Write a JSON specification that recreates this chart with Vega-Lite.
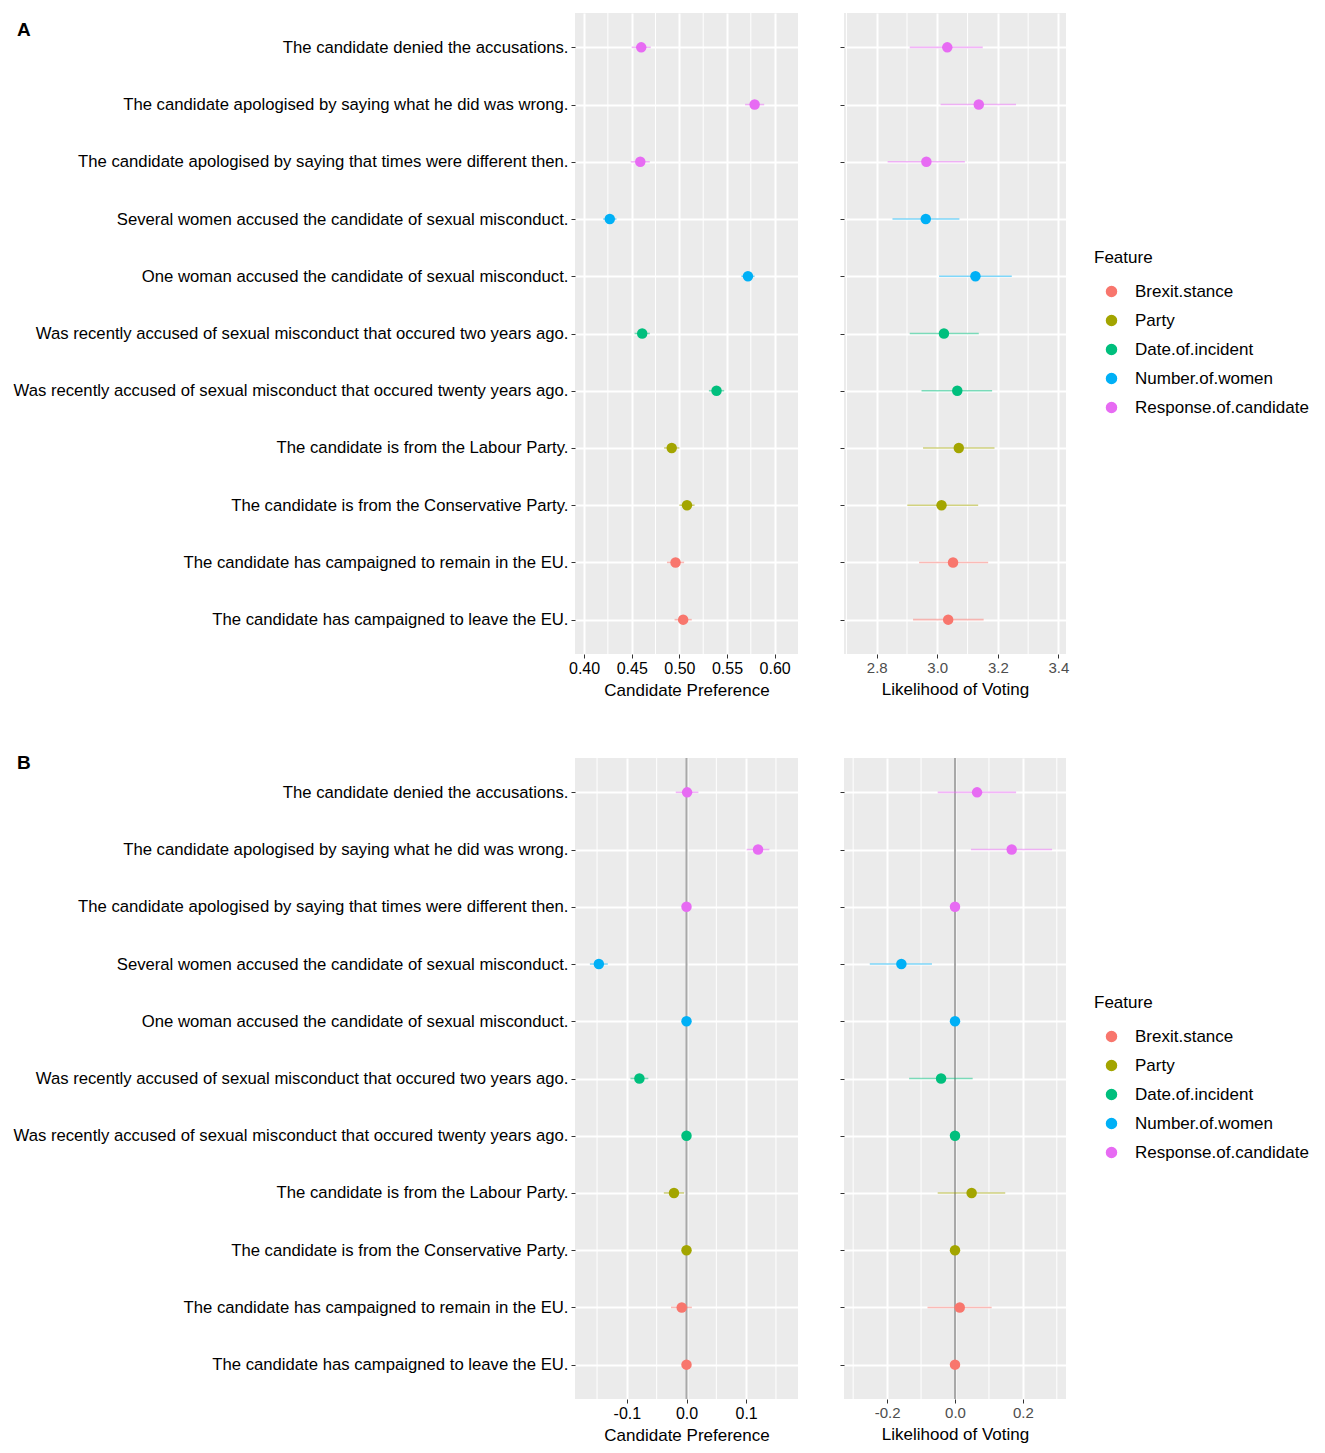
{
  "$schema": "https://vega.github.io/schema/vega-lite/v6.json",
  "padding": {"left": 13, "top": 12, "right": 5, "bottom": 5},
  "background": "white",
  "config": {
    "view": {"fill": "#EBEBEB", "stroke": null},
    "font": "Liberation Sans",
    "axis": {"domain": false, "gridColor": "white", "tickColor": "#333333", "tickSize": 4, "labelPadding": 2, "titleFontWeight": "normal", "titleColor": "black", "titleFontSize": 17, "titleFont": "Liberation Sans", "labelFont": "Liberation Sans", "labelOverlap": false},
    "title": {"font": "Liberation Sans"}
  },
  "data": {"values": [
    {"b": "A", "lvl": "The candidate denied the accusations.", "feat": "Response.of.candidate", "p": 0.460, "plo": 0.450, "phi": 0.470, "v": 3.033, "vlo": 2.909, "vhi": 3.150},
    {"b": "A", "lvl": "The candidate apologised by saying what he did was wrong.", "feat": "Response.of.candidate", "p": 0.579, "plo": 0.569, "phi": 0.589, "v": 3.137, "vlo": 3.011, "vhi": 3.260},
    {"b": "A", "lvl": "The candidate apologised by saying that times were different then.", "feat": "Response.of.candidate", "p": 0.459, "plo": 0.449, "phi": 0.469, "v": 2.964, "vlo": 2.836, "vhi": 3.091},
    {"b": "A", "lvl": "Several women accused the candidate of sexual misconduct.", "feat": "Number.of.women", "p": 0.427, "plo": 0.420, "phi": 0.434, "v": 2.962, "vlo": 2.852, "vhi": 3.073},
    {"b": "A", "lvl": "One woman accused the candidate of sexual misconduct.", "feat": "Number.of.women", "p": 0.572, "plo": 0.565, "phi": 0.579, "v": 3.126, "vlo": 3.006, "vhi": 3.246},
    {"b": "A", "lvl": "Was recently accused of sexual misconduct that occured two years ago.", "feat": "Date.of.incident", "p": 0.461, "plo": 0.453, "phi": 0.469, "v": 3.022, "vlo": 2.909, "vhi": 3.137},
    {"b": "A", "lvl": "Was recently accused of sexual misconduct that occured twenty years ago.", "feat": "Date.of.incident", "p": 0.539, "plo": 0.531, "phi": 0.547, "v": 3.066, "vlo": 2.948, "vhi": 3.181},
    {"b": "A", "lvl": "The candidate is from the Labour Party.", "feat": "Party", "p": 0.492, "plo": 0.484, "phi": 0.500, "v": 3.071, "vlo": 2.953, "vhi": 3.189},
    {"b": "A", "lvl": "The candidate is from the Conservative Party.", "feat": "Party", "p": 0.508, "plo": 0.500, "phi": 0.516, "v": 3.014, "vlo": 2.901, "vhi": 3.135},
    {"b": "A", "lvl": "The candidate has campaigned to remain in the EU.", "feat": "Brexit.stance", "p": 0.496, "plo": 0.487, "phi": 0.505, "v": 3.052, "vlo": 2.940, "vhi": 3.168},
    {"b": "A", "lvl": "The candidate has campaigned to leave the EU.", "feat": "Brexit.stance", "p": 0.504, "plo": 0.495, "phi": 0.513, "v": 3.036, "vlo": 2.920, "vhi": 3.153},
    {"b": "B", "lvl": "The candidate denied the accusations.", "feat": "Response.of.candidate", "p": 0.001, "plo": -0.018, "phi": 0.020, "v": 0.065, "vlo": -0.051, "vhi": 0.180},
    {"b": "B", "lvl": "The candidate apologised by saying what he did was wrong.", "feat": "Response.of.candidate", "p": 0.120, "plo": 0.101, "phi": 0.139, "v": 0.167, "vlo": 0.047, "vhi": 0.286},
    {"b": "B", "lvl": "The candidate apologised by saying that times were different then.", "feat": "Response.of.candidate", "p": 0, "plo": 0, "phi": 0, "v": 0, "vlo": 0, "vhi": 0},
    {"b": "B", "lvl": "Several women accused the candidate of sexual misconduct.", "feat": "Number.of.women", "p": -0.147, "plo": -0.162, "phi": -0.132, "v": -0.158, "vlo": -0.251, "vhi": -0.068},
    {"b": "B", "lvl": "One woman accused the candidate of sexual misconduct.", "feat": "Number.of.women", "p": 0, "plo": 0, "phi": 0, "v": 0, "vlo": 0, "vhi": 0},
    {"b": "B", "lvl": "Was recently accused of sexual misconduct that occured two years ago.", "feat": "Date.of.incident", "p": -0.079, "plo": -0.094, "phi": -0.064, "v": -0.041, "vlo": -0.135, "vhi": 0.052},
    {"b": "B", "lvl": "Was recently accused of sexual misconduct that occured twenty years ago.", "feat": "Date.of.incident", "p": 0, "plo": 0, "phi": 0, "v": 0, "vlo": 0, "vhi": 0},
    {"b": "B", "lvl": "The candidate is from the Labour Party.", "feat": "Party", "p": -0.021, "plo": -0.038, "phi": -0.004, "v": 0.049, "vlo": -0.051, "vhi": 0.148},
    {"b": "B", "lvl": "The candidate is from the Conservative Party.", "feat": "Party", "p": 0, "plo": 0, "phi": 0, "v": 0, "vlo": 0, "vhi": 0},
    {"b": "B", "lvl": "The candidate has campaigned to remain in the EU.", "feat": "Brexit.stance", "p": -0.008, "plo": -0.026, "phi": 0.009, "v": 0.014, "vlo": -0.081, "vhi": 0.108},
    {"b": "B", "lvl": "The candidate has campaigned to leave the EU.", "feat": "Brexit.stance", "p": 0, "plo": 0, "phi": 0, "v": 0, "vlo": 0, "vhi": 0}
  ]},
  "spacing": 56,
  "resolve": {"legend": {"color": "independent"}},
  "vconcat": [
    {
      "title": {"text": "A", "anchor": "start", "frame": "bounds", "fontSize": 19, "fontWeight": "bold", "color": "black", "offset": 0, "dy": 27, "dx": 4},
      "spacing": 41,
      "resolve": {"legend": {"color": "independent"}},
      "hconcat": [
        {
          "width": 223, "height": 641,
          "layer": [
            {
              "data": {"values": [{"g": 0.425}, {"g": 0.475}, {"g": 0.525}, {"g": 0.575}]},
              "mark": {"type": "rule", "color": "white", "strokeWidth": 1},
              "encoding": {"x": {"field": "g", "type": "quantitative"}}
            },
            {
              "transform": [{"filter": "datum.b == 'A'"}],
              "mark": {"type": "rule", "strokeWidth": 1.6, "opacity": 0.5},
              "encoding": {
                "y": {"field": "lvl", "type": "nominal", "sort": null, "title": null, "scale": {"type": "point", "padding": 0.6}, "axis": {"grid": true, "labelFontSize": 16.7, "labelColor": "black", "labelLimit": 800, "gridWidth": 2, "labelPadding": 3}},
                "x": {"field": "plo", "type": "quantitative", "scale": {"domain": [0.3905, 0.6245], "nice": false, "zero": false},
                  "axis": {"title": "Candidate Preference", "titlePadding": 6, "labelFontSize": 16, "labelColor": "black", "values": [0.4, 0.45, 0.5, 0.55, 0.6], "format": ".2f", "grid": true, "gridWidth": 2}},
                "x2": {"field": "phi"},
                "color": {"field": "feat", "type": "nominal", "scale": {"domain": ["Brexit.stance", "Party", "Date.of.incident", "Number.of.women", "Response.of.candidate"], "range": ["#F8766D", "#A3A500", "#00BF7D", "#00B0F6", "#E76BF3"]}, "legend": null}
              }
            },
            {
              "transform": [{"filter": "datum.b == 'A'"}],
              "mark": {"type": "point", "filled": true, "size": 110, "opacity": 1},
              "encoding": {
                "y": {"field": "lvl", "type": "nominal", "sort": null, "title": null},
                "x": {"field": "p", "type": "quantitative"},
                "color": {"field": "feat", "type": "nominal", "legend": null}
              }
            }
          ]
        },
        {
          "width": 222, "height": 641,
          "layer": [
            {
              "data": {"values": [{"g": 2.7}, {"g": 2.9}, {"g": 3.1}, {"g": 3.3}]},
              "mark": {"type": "rule", "color": "white", "strokeWidth": 1},
              "encoding": {"x": {"field": "g", "type": "quantitative"}}
            },
            {
              "transform": [{"filter": "datum.b == 'A'"}],
              "mark": {"type": "rule", "strokeWidth": 1.6, "opacity": 0.5},
              "encoding": {
                "y": {"field": "lvl", "type": "nominal", "sort": null, "title": null, "scale": {"type": "point", "padding": 0.6}, "axis": {"grid": true, "labels": false, "gridWidth": 2}},
                "x": {"field": "vlo", "type": "quantitative", "scale": {"domain": [2.692, 3.425], "nice": false, "zero": false},
                  "axis": {"title": "Likelihood of Voting", "titlePadding": 6, "labelFontSize": 15, "labelColor": "#4D4D4D", "values": [2.8, 3.0, 3.2, 3.4], "format": ".1f", "grid": true, "gridWidth": 2}},
                "x2": {"field": "vhi"},
                "color": {"field": "feat", "type": "nominal", "legend": {"title": "Feature", "orient": "none", "legendX": 250, "legendY": 237, "titleFontSize": 17, "titleFontWeight": "normal", "titleColor": "black", "labelFontSize": 17, "labelColor": "black", "labelLimit": 400, "symbolType": "circle", "symbolSize": 100, "symbolOpacity": 1, "rowPadding": 11, "titlePadding": 16, "symbolOffset": 9, "labelOffset": 15, "padding": 0}}
              }
            },
            {
              "transform": [{"filter": "datum.b == 'A'"}],
              "mark": {"type": "point", "filled": true, "size": 110, "opacity": 1},
              "encoding": {
                "y": {"field": "lvl", "type": "nominal", "sort": null, "title": null},
                "x": {"field": "v", "type": "quantitative"},
                "color": {"field": "feat", "type": "nominal"}
              }
            }
          ]
        }
      ]
    },
    {
      "title": {"text": "B", "anchor": "start", "frame": "bounds", "fontSize": 19, "fontWeight": "bold", "color": "black", "offset": 0, "dy": 16, "dx": 4},
      "spacing": 41,
      "resolve": {"legend": {"color": "independent"}},
      "hconcat": [
        {
          "width": 223, "height": 641,
          "layer": [
            {
              "data": {"values": [{"g": -0.15}, {"g": -0.05}, {"g": 0.05}, {"g": 0.15}]},
              "mark": {"type": "rule", "color": "white", "strokeWidth": 1},
              "encoding": {"x": {"field": "g", "type": "quantitative"}}
            },
            {
              "data": {"values": [{"g": 0}]},
              "mark": {"type": "rule", "color": "#A8A8A8", "strokeWidth": 2},
              "encoding": {"x": {"field": "g", "type": "quantitative"}}
            },
            {
              "transform": [{"filter": "datum.b == 'B'"}],
              "mark": {"type": "rule", "strokeWidth": 1.6, "opacity": 0.5},
              "encoding": {
                "y": {"field": "lvl", "type": "nominal", "sort": null, "title": null, "scale": {"type": "point", "padding": 0.6}, "axis": {"grid": true, "labelFontSize": 16.7, "labelColor": "black", "labelLimit": 800, "gridWidth": 2, "labelPadding": 3}},
                "x": {"field": "plo", "type": "quantitative", "scale": {"domain": [-0.187, 0.187], "nice": false, "zero": false},
                  "axis": {"title": "Candidate Preference", "titlePadding": 6, "labelFontSize": 16, "labelColor": "black", "values": [-0.1, 0, 0.1], "format": ".1f", "labelExpr": "replace(datum.label, '\u2212', '-')", "grid": true, "gridWidth": 2}},
                "x2": {"field": "phi"},
                "color": {"field": "feat", "type": "nominal", "scale": {"domain": ["Brexit.stance", "Party", "Date.of.incident", "Number.of.women", "Response.of.candidate"], "range": ["#F8766D", "#A3A500", "#00BF7D", "#00B0F6", "#E76BF3"]}, "legend": null}
              }
            },
            {
              "transform": [{"filter": "datum.b == 'B'"}],
              "mark": {"type": "point", "filled": true, "size": 110, "opacity": 1},
              "encoding": {
                "y": {"field": "lvl", "type": "nominal", "sort": null, "title": null},
                "x": {"field": "p", "type": "quantitative"},
                "color": {"field": "feat", "type": "nominal", "legend": null}
              }
            }
          ]
        },
        {
          "width": 222, "height": 641,
          "layer": [
            {
              "data": {"values": [{"g": -0.3}, {"g": -0.1}, {"g": 0.1}, {"g": 0.3}]},
              "mark": {"type": "rule", "color": "white", "strokeWidth": 1},
              "encoding": {"x": {"field": "g", "type": "quantitative"}}
            },
            {
              "data": {"values": [{"g": 0}]},
              "mark": {"type": "rule", "color": "#A8A8A8", "strokeWidth": 2},
              "encoding": {"x": {"field": "g", "type": "quantitative"}}
            },
            {
              "transform": [{"filter": "datum.b == 'B'"}],
              "mark": {"type": "rule", "strokeWidth": 1.6, "opacity": 0.5},
              "encoding": {
                "y": {"field": "lvl", "type": "nominal", "sort": null, "title": null, "scale": {"type": "point", "padding": 0.6}, "axis": {"grid": true, "labels": false, "gridWidth": 2}},
                "x": {"field": "vlo", "type": "quantitative", "scale": {"domain": [-0.327, 0.327], "nice": false, "zero": false},
                  "axis": {"title": "Likelihood of Voting", "titlePadding": 6, "labelFontSize": 15, "labelColor": "#4D4D4D", "values": [-0.2, 0, 0.2], "format": ".1f", "labelExpr": "replace(datum.label, '\u2212', '-')", "grid": true, "gridWidth": 2}},
                "x2": {"field": "vhi"},
                "color": {"field": "feat", "type": "nominal", "legend": {"title": "Feature", "orient": "none", "legendX": 250, "legendY": 237, "titleFontSize": 17, "titleFontWeight": "normal", "titleColor": "black", "labelFontSize": 17, "labelColor": "black", "labelLimit": 400, "symbolType": "circle", "symbolSize": 100, "symbolOpacity": 1, "rowPadding": 11, "titlePadding": 16, "symbolOffset": 9, "labelOffset": 15, "padding": 0}}
              }
            },
            {
              "transform": [{"filter": "datum.b == 'B'"}],
              "mark": {"type": "point", "filled": true, "size": 110, "opacity": 1},
              "encoding": {
                "y": {"field": "lvl", "type": "nominal", "sort": null, "title": null},
                "x": {"field": "v", "type": "quantitative"},
                "color": {"field": "feat", "type": "nominal"}
              }
            }
          ]
        }
      ]
    }
  ]
}
